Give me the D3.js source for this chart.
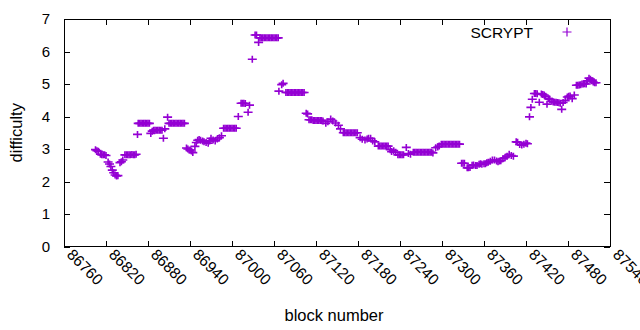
<!DOCTYPE html>
<html>
<head>
<meta charset="utf-8">
<script src="https://cdn.jsdelivr.net/npm/d3@7"></script>
<style>
html,body{margin:0;padding:0;background:#fff;}
svg{display:block;}
text{font-family:"Liberation Sans",Arial,sans-serif;fill:#000;}
</style>
</head>
<body>
<svg id="chart" width="640" height="330"></svg>
<script>
const seriesName = "SCRYPT";
const xTicks = [86760,86820,86880,86940,87000,87060,87120,87180,87240,87300,87360,87420,87480,87540];
const yTicks = [0,1,2,3,4,5,6,7];

const blocks = [
86805,86807,86809,86812,86814,86816,86818,86820,
86823,86825,86827,86829,86831,86833,86835,86837,86840,86842,86844,
86847,86849,86851,86853,86855,86857,86859,86861,86863,
86865,86866,86868,86870,86872,86874,86876,86878,86880,86882,86884,
86886,86888,86890,86892,86894,86896,86898,86900,86902,86904,
86908,86910,86912,86914,86916,86918,86920,86922,86924,86926,86928,86930,86932,
86935,86937,86940,86942,86944,86947,86949,86951,86953,86955,86958,86960,86963,86966,86968,86970,86973,86976,86979,86982,86985,
86988,86990,86992,86994,86996,86998,87000,87002,87004,87006,
87009,87013,87015,87017,87019,87023,87025,87029,
87033,87035,87038,87040,87042,87044,87046,87048,87050,87052,87054,87056,87058,87060,87062,87064,87066,
87067,87071,87073,87077,87079,87081,87083,87085,87087,87089,87091,87093,87095,87097,87099,87101,87103,
87106,87108,87110,87112,87114,87116,87118,87120,87122,87124,87126,87128,87130,
87134,87137,87141,87144,87148,87152,87155,
87159,87161,87163,87165,87167,87169,87171,87173,87175,87177,87179,
87183,87186,87190,87193,87195,87198,87201,87204,
87209,87211,87213,87215,87217,87219,87221,87223,
87226,87228,87231,87234,87237,87239,87241,87243,87245,87249,87252,87255,
87259,87261,87263,87265,87267,87269,87271,87273,87275,87277,87279,87281,87283,87285,87287,
87291,87294,87296,
87299,87301,87303,87305,87307,87309,87311,87313,87315,87317,87319,87321,87323,87325,
87328,87330,87332,87336,87338,87340,87343,87345,87348,87350,87353,87355,87357,87360,87362,87364,87366,87369,87372,87375,87378,87380,87382,87384,87387,87390,87393,87396,87399,87402,
87406,87408,87411,87414,87417,87420,87422,
87425,87427,87429,87432,87434,87436,87439,87442,87444,87446,87448,87450,87452,87454,87457,87459,87461,87463,87465,87467,87469,87471,87473,87476,87479,87481,87483,87486,87489,
87492,87494,87496,87498,87500,87502,87504,87506,87508,87510,87512,87514,87516,87518,87520
];

const difficulty = [
2.98,2.95,2.93,2.84,2.82,2.82,2.82,2.80,
2.60,2.54,2.46,2.35,2.27,2.20,2.17,2.18,2.58,2.61,2.66,
2.82,2.82,2.82,2.82,2.82,2.83,2.82,2.82,2.84,
3.45,3.79,3.79,3.79,3.79,3.79,3.79,3.79,3.79,3.79,3.48,
3.55,3.58,3.58,3.58,3.58,3.58,3.58,3.58,3.33,3.62,
3.98,3.79,3.79,3.79,3.79,3.79,3.79,3.79,3.79,3.79,3.79,3.79,3.79,
3.03,3.00,2.97,2.94,2.89,3.08,3.20,3.27,3.29,3.27,3.25,3.22,3.20,3.18,3.25,3.33,3.28,3.25,3.31,3.35,3.41,
3.64,3.64,3.64,3.64,3.64,3.64,3.64,3.64,3.64,3.64,
4.00,4.41,4.41,4.41,4.40,4.13,4.35,5.76,
6.51,6.51,6.28,6.42,6.42,6.42,6.42,6.42,6.42,6.42,6.42,6.42,6.42,6.42,6.42,6.42,6.42,
4.78,4.98,5.02,4.74,4.74,4.74,4.74,4.74,4.74,4.74,4.74,4.74,4.74,4.74,4.74,4.74,4.74,
4.10,4.08,3.90,3.90,3.90,3.88,3.88,3.88,3.88,3.88,3.88,3.88,3.86,
3.79,3.84,3.92,3.86,3.80,3.73,3.62,
3.50,3.50,3.50,3.50,3.50,3.50,3.50,3.50,3.50,3.50,3.50,
3.35,3.30,3.28,3.31,3.33,3.33,3.25,3.22,
3.09,3.09,3.09,3.09,3.09,3.09,3.09,3.09,
2.98,2.92,2.95,2.90,2.82,2.82,2.82,2.82,2.82,3.05,2.86,2.84,
2.90,2.90,2.90,2.90,2.90,2.90,2.90,2.90,2.90,2.90,2.90,2.90,2.90,2.90,2.88,
3.04,3.06,3.09,
3.15,3.15,3.15,3.15,3.15,3.15,3.15,3.15,3.15,3.15,3.15,3.15,3.15,3.15,
2.56,2.56,2.56,2.42,2.42,2.43,2.50,2.51,2.49,2.49,2.53,2.55,2.53,2.55,2.55,2.58,2.59,2.62,2.66,2.66,2.63,2.61,2.63,2.64,2.70,2.73,2.78,2.84,2.80,2.78,
3.22,3.21,3.14,3.12,3.15,3.18,3.16,
3.99,4.28,4.53,4.71,4.71,4.70,4.44,4.69,4.68,4.66,4.62,4.38,4.55,4.53,4.47,4.45,4.44,4.44,4.43,4.42,4.41,4.22,4.43,4.49,4.60,4.62,4.63,4.55,4.66,
4.96,4.96,4.97,4.98,5.00,5.00,5.01,5.00,5.10,5.18,5.15,5.10,5.06,5.04,5.04
];

const color = "#9400D3";
const svg = d3.select("#chart");
const pLeft = 64, pRight = 610, pTop = 19, pBottom = 246.5;

const x = d3.scaleLinear().domain([86760, 87540]).range([pLeft, pRight]);
const y = d3.scaleLinear().domain([0, 7]).range([pBottom, pTop]);

const n = Math.min(blocks.length, difficulty.length);
const points = blocks.slice(0, n).map((b, i) => ({b, d: difficulty[i]}));
const plus = "M-4.5,0H4.5M0,-3.5V3.5";

// axes with inward ticks
const tickLen = 6;
const gx = svg.append("g").attr("transform", `translate(0,${pBottom})`)
  .call(d3.axisBottom(x).tickValues(xTicks).tickSizeInner(-tickLen).tickSizeOuter(0).tickFormat(""));
const gxTop = svg.append("g").attr("transform", `translate(0,${pTop})`)
  .call(d3.axisTop(x).tickValues(xTicks).tickSizeInner(-tickLen).tickSizeOuter(0).tickFormat(""));
const gy = svg.append("g").attr("transform", `translate(${pLeft},0)`)
  .call(d3.axisLeft(y).tickValues(yTicks).tickSizeInner(-tickLen).tickSizeOuter(0).tickFormat(""));
const gyR = svg.append("g").attr("transform", `translate(${pRight},0)`)
  .call(d3.axisRight(y).tickValues(yTicks).tickSizeInner(-tickLen).tickSizeOuter(0).tickFormat(""));
[gx, gxTop, gy, gyR].forEach(g => {
  g.selectAll(".domain").remove();
  g.selectAll("line").attr("stroke", "#000").attr("shape-rendering", "crispEdges");
});

// border
svg.append("rect").attr("x", pLeft).attr("y", pTop).attr("width", pRight - pLeft).attr("height", pBottom - pTop)
  .attr("fill", "none").attr("stroke", "#000").attr("stroke-width", 1).attr("shape-rendering", "crispEdges");

// tick labels
svg.append("g").selectAll("text").data(yTicks).join("text")
  .attr("x", pLeft - 14).attr("y", d => y(d)).attr("dy", "0.36em")
  .attr("text-anchor", "end").attr("font-size", 15).text(d => d);

svg.append("g").selectAll("text").data(xTicks).join("text")
  .attr("transform", d => `translate(${x(d) + 2},${pBottom + 9}) rotate(45)`)
  .attr("text-anchor", "start").attr("font-size", 15.5).text(d => d);

// axis titles
svg.append("text").attr("x", (pLeft + pRight) / 2 - 3).attr("y", 321)
  .attr("text-anchor", "middle").attr("font-size", 16.5).text("block number");
svg.append("text").attr("transform", `translate(22,${(pTop + pBottom) / 2}) rotate(-90)`)
  .attr("text-anchor", "middle").attr("font-size", 16.5).text("difficulty");

// points
svg.append("g").selectAll("path").data(points).join("path")
  .attr("transform", p => `translate(${x(p.b)},${y(p.d)})`)
  .attr("d", plus).attr("fill", "none").attr("stroke", color).attr("stroke-width", 1.6);

// legend
svg.append("text").attr("x", 533).attr("y", 37.5).attr("text-anchor", "end")
  .attr("font-size", 15.5).text(seriesName);
svg.append("path").attr("transform", "translate(567,32)").attr("d", "M-4.5,0H4.5M0,-4.5V4.5")
  .attr("fill", "none").attr("stroke", color).attr("stroke-width", 1.2);
</script>
</body>
</html>
